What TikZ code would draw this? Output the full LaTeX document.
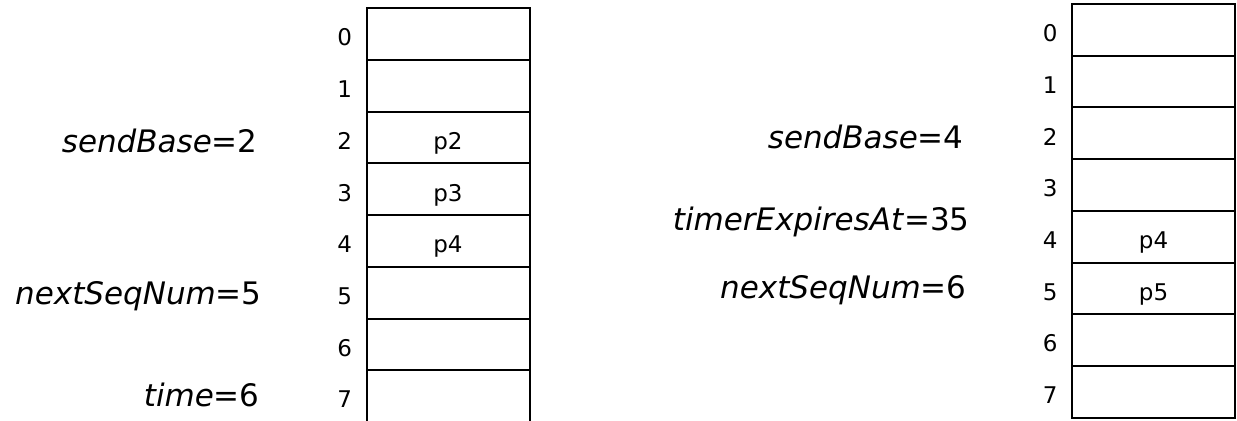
\documentclass[tikz,border=0pt]{standalone}
\usepackage{fontspec}
\setmainfont{DejaVu Sans}
\usetikzlibrary{positioning}

\begin{document}
\begin{tikzpicture}[x=0.5pt, y=-0.5pt,
  slot/.style={draw, line width=1pt, minimum width=81.5pt,
               minimum height=25.85pt, inner sep=0pt,
               text height=11.8pt, text depth=0pt,
               font=\fontsize{11.5}{13}\selectfont},
  idx/.style={inner sep=0pt, text height=11.8pt, text depth=0pt,
              font=\fontsize{11.5}{13}\selectfont},
  var/.style={inner sep=0pt, anchor=base east,
              font=\fontsize{15.5}{18}\selectfont}]

  \clip (0,0) rectangle (1237,420);

  % sender window before the timeout
  \foreach \i/\pkt in {0/,1/,2/p2,3/p3,4/p4,5/,6/,7/} {
    \node[slot] (L\i) at (448, 34.15+51.7*\i) {\pkt};
    \node[idx, left=6.5pt of L\i] (Ln\i) {\i};
  }

  % sender window after the timeout
  \foreach \i/\pkt in {0/,1/,2/,3/,4/p4,5/p5,6/,7/} {
    \node[slot] (R\i) at (1153.5, 29.85+51.7*\i) {\pkt};
    \node[idx, left=6.5pt of R\i] (Rn\i) {\i};
  }

  \node[var] (sb1)  at (258, 152.7) {\textit{sendBase}=2};
  \node[var] (nsn1) at (262, 304)   {\textit{nextSeqNum}=5};
  \node[var] (tm1)  at (260, 406)   {\textit{time}=6};

  \node[var] (sb2)  at (964, 148.3) {\textit{sendBase}=4};
  \node[var] (tea2) at (970, 230)   {\textit{timerExpiresAt}=35};
  \node[var] (nsn2) at (967, 298.3) {\textit{nextSeqNum}=6};
\end{tikzpicture}
\end{document}
